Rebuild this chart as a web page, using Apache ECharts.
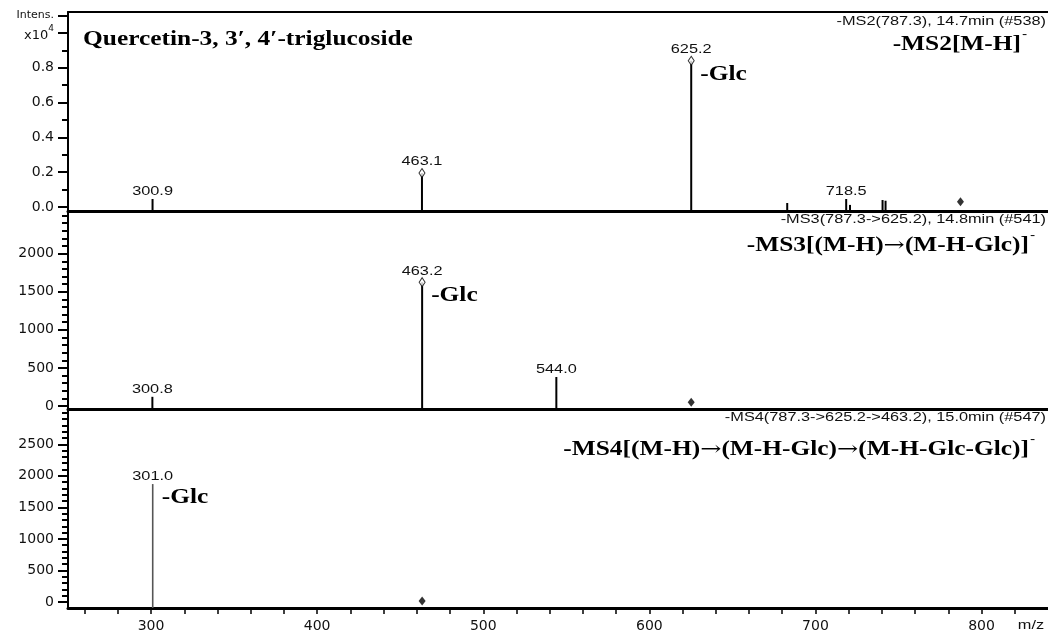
<!DOCTYPE html>
<html><head><meta charset="utf-8">
<script src="https://cdn.jsdelivr.net/npm/echarts@6/dist/echarts.min.js"></script>
<style>html,body{margin:0;padding:0;background:#fff}#c{width:1048px;height:633px}</style>
</head><body><div id="c"></div>
<script>
// ---------- data ----------
const mzMin = 250, mzMax = 840;
const xTickValues = [260,280,300,320,340,360,380,400,420,440,460,480,500,520,540,560,580,600,620,640,660,680,700,720,740,760,780,800,820];
const xLabelValues = [300,400,500,600,700,800];

// MS2 (intensity in x10^4)
const ms2Mz     = [300.9, 463.1, 625.2, 683.0, 718.5, 720.8, 740.4, 742.2];
const ms2Int    = [0.046, 0.195, 0.84, 0.023, 0.046, 0.012, 0.040, 0.036];
const ms2Labels = ['300.9','463.1','625.2','','718.5','','',''];
const ms2OpenMarks = [463.1, 625.2];
const ms2PrecursorMz = [787.3];
const ms2PrecursorInt = [0.03];
const ms2LossMz = [625.2];

// MS3
const ms3Mz     = [300.8, 463.2, 544.0];
const ms3Int    = [120, 1625, 380];
const ms3Labels = ['300.8','463.2','544.0'];
const ms3OpenMarks = [463.2];
const ms3PrecursorMz = [625.2];
const ms3PrecursorInt = [50];
const ms3LossMz = [463.2];

// MS4
const ms4Mz     = [301.0];
const ms4Int    = [1870];
const ms4Labels = ['301.0'];
const ms4OpenMarks = [];
const ms4PrecursorMz = [463.2];
const ms4PrecursorInt = [15];
const ms4LossMz = [301.0];

const lossText = '-Glc';

// y ticks
const p1Range = [-0.023, 1.12];
const p1Major = [0, 0.2, 0.4, 0.6, 0.8, 1.0, 1.1];
const p1Minor = [0.1, 0.3, 0.5, 0.7, 0.9];
const p2Range = [-40, 2560];
const p2Major = [0, 500, 1000, 1500, 2000];
const p2Minor = [100,200,300,400,600,700,800,900,1100,1200,1300,1400,1600,1700,1800,1900,2100,2200,2300,2400,2500];
const p3Range = [-95, 3060];
const p3Major = [0, 500, 1000, 1500, 2000, 2500];
const p3Minor = [100,200,300,400,600,700,800,900,1100,1200,1300,1400,1600,1700,1800,1900,2100,2200,2300,2400,2600,2700,2800,2900,3000];

const headers = [
  {small: '-MS2(787.3), 14.7min (#538)', big: '-MS2[M-H]', y1: 22, y2: 45, r2: 1021},
  {small: '-MS3(787.3->625.2), 14.8min (#541)', big: '-MS3[(M-H){ar|\u2192}(M-H-Glc)]', y1: 220, y2: 246, r2: 1029},
  {small: '-MS4(787.3->625.2->463.2), 15.0min (#547)', big: '-MS4[(M-H){ar|\u2192}(M-H-Glc){ar|\u2192}(M-H-Glc-Glc)]', y1: 418, y2: 450, r2: 1029}
];
const titleText = 'Quercetin-3, 3\u2032, 4\u2032-triglucoside';

// ---------- styles ----------
const SX_SANS = 1.36, SX_SERIF = 1.27;
const SANS = '12px "Liberation Sans", Arial, sans-serif';
const SERIF = 'bold 20px "Liberation Serif", "Times New Roman", serif';
const AXFONT = 'DejaVu Sans';
const INK = '#111';
const ARROW_RICH = {ar: {fontFamily: 'DejaVu Serif', fontSize: 20, fontWeight: 'normal', fill: '#000', color: '#000'}};

const chart = echarts.init(document.getElementById('c'), null, {renderer: 'canvas'});

const grids = [
  {left: 68, right: 0, top: 12, height: 199},
  {left: 68, right: 0, top: 211, height: 198},
  {left: 68, right: 0, top: 409, height: 199}
];

function xAxisFor(g, withLabels) {
  return {
    type: 'value', gridIndex: g, min: mzMin, max: mzMax, position: 'bottom',
    axisLine: {show: true, onZero: false, lineStyle: {color: '#000', width: 3}},
    splitLine: {show: false},
    axisTick: withLabels ? {show: true, inside: false, length: 6, lineStyle: {color: '#000', width: 1.5}, customValues: xTickValues} : {show: false},
    axisLabel: withLabels ? {show: true, customValues: xLabelValues, margin: 11, color: INK, fontFamily: AXFONT, fontSize: 14} : {show: false}
  };
}

function yAxisPair(g, range, major, minor, fmt) {
  return [
    {type: 'value', gridIndex: g, min: range[0], max: range[1], position: 'left',
     axisLine: {show: true, onZero: false, lineStyle: {color: '#000', width: 2}},
     splitLine: {show: false},
     axisTick: {show: true, length: 10, lineStyle: {color: '#000', width: 2}, customValues: major},
     axisLabel: {show: true, customValues: major, margin: 14, color: INK, fontFamily: AXFONT, fontSize: 14,
                 formatter: fmt,
                 rich: {a: {fontFamily: AXFONT, fontSize: 13, color: INK, lineHeight: 18, verticalAlign: 'bottom'},
                        s: {fontFamily: AXFONT, fontSize: 9, color: INK, lineHeight: 18, verticalAlign: 'top'},
                        i: {fontFamily: AXFONT, fontSize: 11, color: INK}}}},
    {type: 'value', gridIndex: g, min: range[0], max: range[1], position: 'left',
     axisLine: {show: false}, splitLine: {show: false}, axisLabel: {show: false},
     axisTick: {show: true, length: 6, lineStyle: {color: '#000', width: 2}, customValues: minor}}
  ];
}

function p1Fmt(v) {
  if (Math.abs(v - 1.1) < 1e-6) return '{i|Intens.}';
  if (Math.abs(v - 1.0) < 1e-6) return '{a|x10}{s|4}';
  return v.toFixed(1);
}
function intFmt(v) { return String(Math.round(v)); }

function stemSeries(xi, yi, mz, ints, labels, openMarks, lossMz, yMin, color, width) {
  return {
    type: 'custom', xAxisIndex: xi, yAxisIndex: yi, z: 3,
    data: mz.map((m, i) => [m, ints[i]]),
    renderItem: function (params, api) {
      const x = api.value(0), y = api.value(1);
      const b = api.coord([x, yMin]);
      const t = api.coord([x, y]);
      const children = [{type: 'line', shape: {x1: b[0], y1: b[1], x2: t[0], y2: t[1]},
                         style: {stroke: color, lineWidth: width}}];
      const lab = labels[params.dataIndex];
      if (lab) {
        const off = openMarks.indexOf(x) >= 0 ? 5 : 1;
        children.push({type: 'text', x: t[0], y: t[1] - off, scaleX: SX_SANS,
          style: {text: lab, font: SANS, fill: INK, textAlign: 'center', textVerticalAlign: 'bottom', align: 'center', verticalAlign: 'bottom'}});
      }
      if (lossMz.indexOf(x) >= 0) {
        children.push({type: 'text', x: t[0] + 9, y: t[1] + 14, scaleX: SX_SERIF,
          style: {text: lossText, font: SERIF, fill: '#000', textAlign: 'left', textVerticalAlign: 'middle', align: 'left', verticalAlign: 'middle'}});
      }
      return {type: 'group', children: children};
    }
  };
}

function openMarkSeries(xi, yi, mz, ints, marks) {
  return {type: 'scatter', xAxisIndex: xi, yAxisIndex: yi, z: 5, symbol: 'diamond', symbolSize: [6, 9],
    itemStyle: {color: '#fff', borderColor: '#000', borderWidth: 1}, silent: true,
    data: marks.map(m => [m, ints[mz.indexOf(m)]])};
}
function precursorSeries(xi, yi, pm, pi) {
  return {type: 'scatter', xAxisIndex: xi, yAxisIndex: yi, z: 5, symbol: 'diamond', symbolSize: [7, 9],
    itemStyle: {color: '#000'}, silent: true, data: pm.map((m, i) => [m, pi[i]])};
}

const yAxes = [].concat(
  yAxisPair(0, p1Range, p1Major, p1Minor, p1Fmt),
  yAxisPair(1, p2Range, p2Major, p2Minor, intFmt),
  yAxisPair(2, p3Range, p3Major, p3Minor, intFmt)
);

const xAxes = [
  xAxisFor(0, false),
  {type: 'value', gridIndex: 0, min: mzMin, max: mzMax, position: 'top',
   axisLine: {show: true, onZero: false, lineStyle: {color: '#000', width: 2}},
   axisTick: {show: false}, axisLabel: {show: false}, splitLine: {show: false}},
  xAxisFor(1, false),
  xAxisFor(2, true)
];

const graphics = [
  {type: 'text', x: 83, y: 40, scaleX: SX_SERIF, z: 10,
   style: {text: titleText, font: SERIF, fill: '#000', textAlign: 'left', textVerticalAlign: 'middle', align: 'left', verticalAlign: 'middle'}},
  {type: 'text', x: 1031, y: 626, scaleX: SX_SANS, z: 10,
   style: {text: 'm/z', font: SANS, fill: INK, textAlign: 'center', textVerticalAlign: 'middle', align: 'center', verticalAlign: 'middle'}}
];
headers.forEach(h => {
  graphics.push({type: 'text', x: 1046, y: h.y1, scaleX: SX_SANS, z: 10,
    style: {text: h.small, font: SANS, fill: INK, textAlign: 'right', textVerticalAlign: 'middle', align: 'right', verticalAlign: 'middle'}});
  graphics.push({type: 'text', x: h.r2, y: h.y2, scaleX: SX_SERIF, z: 10,
    style: {text: h.big, font: SERIF, fill: '#000', rich: ARROW_RICH, textAlign: 'right', textVerticalAlign: 'middle', align: 'right', verticalAlign: 'middle'}});
  graphics.push({type: 'text', x: h.r2 + 1, y: h.y2 - 10, scaleX: 1.3, z: 10,
    style: {text: '-', font: '12px "Liberation Sans", Arial, sans-serif', fill: '#000', textAlign: 'left', textVerticalAlign: 'middle', align: 'left', verticalAlign: 'middle'}});
});

chart.setOption({
  animation: false,
  backgroundColor: '#fff',
  grid: grids,
  xAxis: xAxes,
  yAxis: yAxes,
  graphic: graphics,
  series: [
    stemSeries(0, 0, ms2Mz, ms2Int, ms2Labels, ms2OpenMarks, ms2LossMz, p1Range[0], '#000', 2),
    openMarkSeries(0, 0, ms2Mz, ms2Int, ms2OpenMarks),
    precursorSeries(0, 0, ms2PrecursorMz, ms2PrecursorInt),
    stemSeries(2, 2, ms3Mz, ms3Int, ms3Labels, ms3OpenMarks, ms3LossMz, p2Range[0], '#000', 2),
    openMarkSeries(2, 2, ms3Mz, ms3Int, ms3OpenMarks),
    precursorSeries(2, 2, ms3PrecursorMz, ms3PrecursorInt),
    stemSeries(3, 4, ms4Mz, ms4Int, ms4Labels, ms4OpenMarks, ms4LossMz, p3Range[0], '#555', 1.6),
    precursorSeries(3, 4, ms4PrecursorMz, ms4PrecursorInt)
  ]
});
</script></body></html>
